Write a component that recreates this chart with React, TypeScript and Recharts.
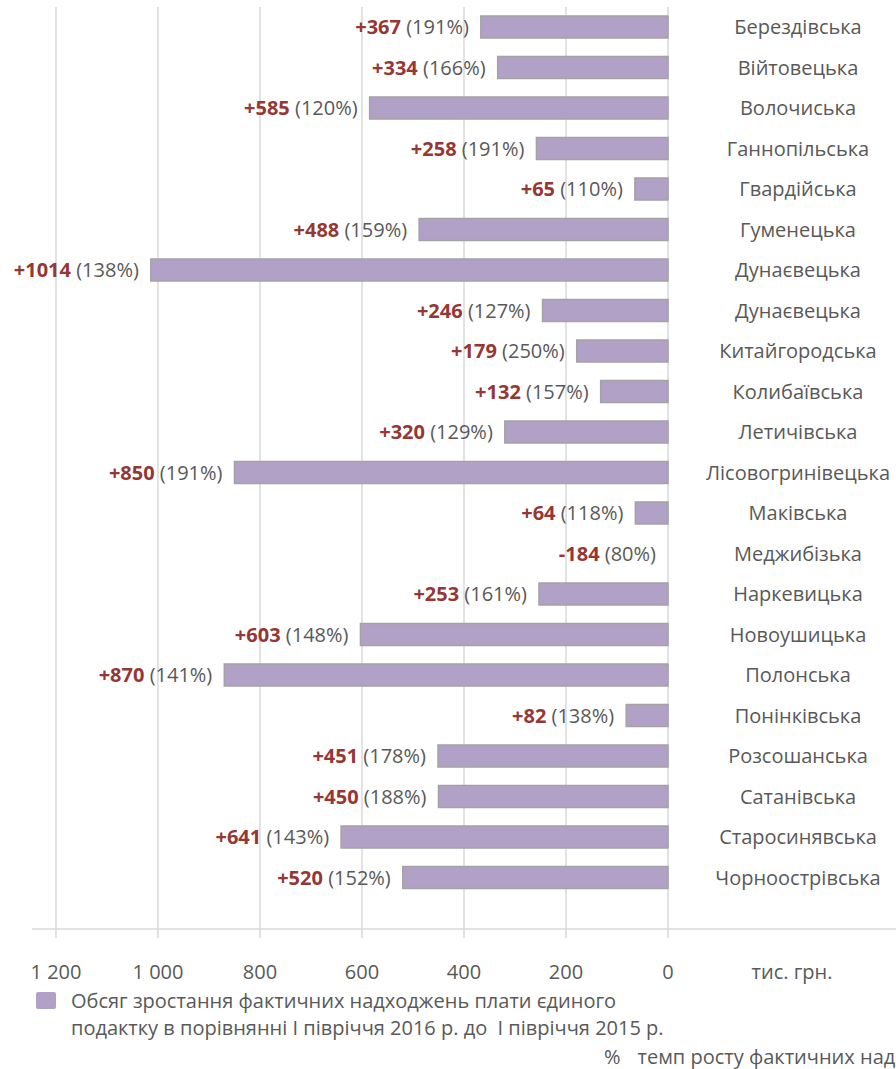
import React from 'react';
import { BarChart, Bar, XAxis, YAxis, LabelList, Legend, CartesianGrid } from 'recharts';

const communities = [
  'Берездівська', 'Війтовецька', 'Волочиська', 'Ганнопільська', 'Гвардійська', 'Гуменецька',
  'Дунаєвецька', 'Дунаєвецька', 'Китайгородська', 'Колибаївська', 'Летичівська', 'Лісовогринівецька',
  'Маківська', 'Меджибізька', 'Наркевицька', 'Новоушицька', 'Полонська', 'Понінківська',
  'Розсошанська', 'Сатанівська', 'Старосинявська', 'Чорноострівська',
];
const growth = [367, 334, 585, 258, 65, 488, 1014, 246, 179, 132, 320, 850, 64, -184, 253, 603, 870, 82, 451, 450, 641, 520];
const growthPct = [191, 166, 120, 191, 110, 159, 138, 127, 250, 157, 129, 191, 118, 80, 161, 148, 141, 138, 178, 188, 143, 152];
const xTicks = [0, 200, 400, 600, 800, 1000, 1200];
const xDomain: [number, number] = [-447, 1247];

const seriesName = 'Обсяг зростання фактичних надходжень плати єдиного подактку в порівнянні І півріччя 2016 р. до  І півріччя 2015 р.';
const legendLine1 = 'Обсяг зростання фактичних надходжень плати єдиного';
const legendLine2 = 'подактку в порівнянні І півріччя 2016 р. до  І півріччя 2015 р.';
const pctLegend = 'темп росту фактичних над';
const unitLabel = 'тис. грн.';

const data = communities.map((name, i) => ({ idx: i, name, growth: growth[i], pct: growthPct[i] }));

const FONT = '"Open Sans", sans-serif';
const GRAY = '#595959';
const RED = '#953735';
const BAR_FILL = '#b2a1c7';
const BAR_STROKE = '#a3a3a3';
const GRID = '#d9d9d9';

const fmt = (v: number) => (v >= 1000 ? `${Math.floor(v / 1000)} ${String(v % 1000).padStart(3, '0')}` : String(v));

const gridX = (args: any) => {
  const ax = args && args.xAxis;
  const sc = ax && ax.scale;
  if (typeof sc === 'function') return xTicks.map((t) => sc(t));
  if (sc && typeof sc.map === 'function') return xTicks.map((t) => sc.map(t));
  const off = args.offset || {};
  const left = off.left ?? 0;
  const width = off.width ?? 0;
  // reversed linear axis: domain max at the left edge
  return xTicks.map((t) => left + ((xDomain[1] - t) / (xDomain[1] - xDomain[0])) * width);
};

const BarShape = (p: any) => {
  if (p.payload && p.payload.growth < 0) return null;
  const x = Math.min(p.x, p.x + p.width);
  const w = Math.abs(p.width);
  return <rect x={x} y={p.y} width={w} height={p.height} fill={BAR_FILL} stroke={BAR_STROKE} strokeWidth={1.5} />;
};

const BarLabel = (p: any) => {
  const i = p.index;
  const g = growth[i];
  const left = Math.min(Number(p.x), Number(p.x) + Number(p.width));
  const cy = Number(p.y) + Number(p.height) / 2;
  return (
    <text x={left - 12} y={cy} dy="0.35em" textAnchor="end" fontSize={20} fontFamily={FONT}>
      <tspan fill={RED} fontWeight="bold">{g >= 0 ? `+${g}` : `${g}`}</tspan>
      <tspan fill={GRAY}>{` (${growthPct[i]}%)`}</tspan>
    </text>
  );
};

const CategoryTick = (p: any) => {
  const name = communities[p.index] ?? p.payload?.value;
  return (
    <text x={p.x - 98} y={p.y} dy="0.35em" textAnchor="middle" fontSize={20} fontFamily={FONT} fill={GRAY}>
      {name}
    </text>
  );
};

const ValueTick = (p: any) => (
  <text x={p.x} y={p.y + 34} dy="0.35em" textAnchor="middle" fontSize={20} fontFamily={FONT} fill={GRAY}>
    {fmt(p.payload.value)}
  </text>
);

const UnitLabel = (p: any) => {
  const vb = p.viewBox || {};
  return (
    <text x={vb.x + vb.width - 104} y={vb.y + 43} dy="0.35em" textAnchor="middle" fontSize={20} fontFamily={FONT} fill={GRAY}>
      {unitLabel}
    </text>
  );
};

const LegendContent = (p: any) => {
  const entry = (p.payload && p.payload[0]) || {};
  return (
    <div style={{ position: 'relative', width: 896, height: 84, fontFamily: FONT, fontSize: 20, color: GRAY }}>
      <div style={{ position: 'absolute', left: 36, top: 7, width: 20, height: 17, background: entry.color || BAR_FILL, borderRadius: 2 }} />
      <div style={{ position: 'absolute', left: 71, top: 2, lineHeight: '27px', whiteSpace: 'nowrap' }}>
        <div>{legendLine1}</div>
        <div style={{ whiteSpace: 'pre' }}>{legendLine2}</div>
      </div>
      <div style={{ position: 'absolute', left: 604, top: 58, lineHeight: '27px', whiteSpace: 'nowrap' }}>
        <span>%</span>
        <span style={{ marginLeft: 17 }}>{pctLegend}</span>
      </div>
    </div>
  );
};

export default function App() {
  return (
    <div style={{ position: 'absolute', left: 0, top: 0, width: 896, height: 1069, overflow: 'hidden', background: '#fff' }}>
      <BarChart
        width={896}
        height={1069}
        data={data}
        layout="vertical"
        margin={{ top: 7, right: 0, bottom: 0, left: 32 }}
      >
        <CartesianGrid horizontal={false} stroke={GRID} strokeWidth={1.5} verticalCoordinatesGenerator={gridX} />
        <XAxis
          type="number"
          domain={xDomain}
          reversed
          ticks={xTicks}
          interval={0}
          allowDataOverflow
          height={140}
          tickSize={9}
          tickMargin={0}
          axisLine={{ stroke: GRID, strokeWidth: 1.5 }}
          tickLine={{ stroke: GRID, strokeWidth: 1.5 }}
          tick={<ValueTick />}
          label={<UnitLabel />}
        />
        <YAxis
          type="category"
          dataKey="idx"
          orientation="right"
          mirror
          axisLine={false}
          tickLine={false}
          tickSize={0}
          tickMargin={0}
          interval={0}
          padding={{ top: 0, bottom: 31 }}
          tick={<CategoryTick />}
        />
        <Legend
          layout="horizontal"
          verticalAlign="middle"
          align="center"
          wrapperStyle={{ top: 985, left: 0, width: 896 }}
          content={<LegendContent />}
        />
        <Bar dataKey="growth" name={seriesName} fill={BAR_FILL} barSize={22} shape={<BarShape />} isAnimationActive={false}>
          <LabelList dataKey="growth" content={<BarLabel />} />
        </Bar>
      </BarChart>
    </div>
  );
}
